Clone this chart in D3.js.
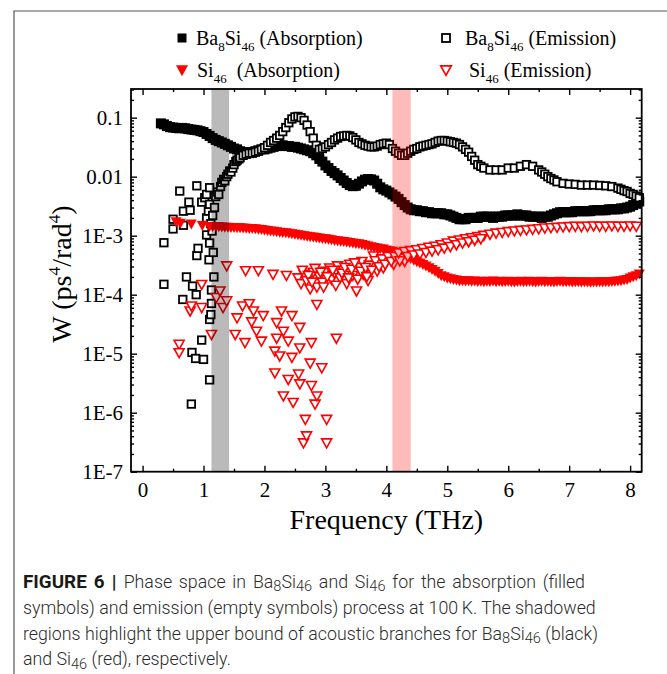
<!DOCTYPE html>
<html><head><meta charset="utf-8">
<script src="https://cdn.jsdelivr.net/npm/d3@7"></script>
<style>body{margin:0;background:#fff}svg{display:block}</style>
</head><body><svg id="c" width="667" height="674"></svg>
<script>
// ---------------- DATA ----------------
const xTicks = [0,1,2,3,4,5,6,7,8];
const xMinorTicks = [0.5,1.5,2.5,3.5,4.5,5.5,6.5,7.5];
const yTicks = [1e-7,1e-6,1e-5,1e-4,1e-3,1e-2,1e-1];
const yTickLabels = ["1E-7","1E-6","1E-5","1E-4","1E-3","0.01","0.1"];
const bandBa = [1.13, 1.42];   // acoustic upper bound Ba8Si46 (THz)
const bandSi = [4.10, 4.40];   // acoustic upper bound Si46 (THz)

// Ba8Si46 absorption (filled squares)  [THz, W]
const baAbsorption = [
[0.30,.080],[0.35,.077],[0.40,.072],[0.45,.069],[0.50,.068],[0.55,.067],[0.60,.066],[0.65,.067],[0.70,.066],[0.75,.064],
[0.80,.063],[0.85,.062],[0.90,.061],[0.95,.059],[1.00,.057],[1.05,.053],[1.10,.049],[1.15,.045],[1.20,.042],[1.25,.040],
[1.30,.038],[1.35,.036],[1.40,.034],[1.45,.032],[1.50,.030],[1.55,.029],[1.60,.027],[1.65,.026],[1.70,.026],[1.75,.025],
[1.80,.026],[1.85,.027],[1.90,.028],[1.95,.029],[2.00,.029],[2.05,.030],[2.10,.031],[2.15,.032],[2.20,.033],[2.25,.034],
[2.30,.034],[2.35,.033],[2.40,.033],[2.45,.032],[2.50,.032],[2.55,.031],[2.60,.030],[2.65,.029],[2.70,.028],[2.75,.027],
[2.80,.025],[2.85,.023],[2.90,.020],[2.95,.018],[3.00,.0155],[3.05,.014],[3.10,.0125],[3.15,.0115],[3.20,.0105],[3.25,.0095],
[3.30,.0086],[3.35,.0078],[3.40,.0072],[3.45,.0069],[3.50,.0070],[3.55,.0076],[3.60,.0083],[3.65,.0089],[3.70,.0091],[3.75,.0090],
[3.80,.0086],[3.85,.0076],[3.90,.0066],[3.95,.0061],[4.00,.0058],[4.05,.0054],[4.10,.0050],[4.15,.0046],[4.20,.0042],[4.25,.0037],
[4.30,.0033],[4.35,.0030],[4.40,.0028],[4.45,.0027],[4.50,.0027],[4.55,.0026],[4.60,.0026],[4.65,.0025],[4.70,.0025],[4.75,.0024],
[4.80,.0024],[4.85,.0024],[4.90,.0024],[4.95,.0023],[5.00,.0023],[5.05,.0022],[5.10,.0021],[5.15,.0020],[5.20,.0019],[5.25,.0019],
[5.30,.0019],[5.35,.0020],[5.40,.0020],[5.45,.0020],[5.50,.0020],[5.55,.0021],[5.60,.0021],[5.65,.0021],[5.70,.0021],[5.75,.0020],
[5.80,.0021],[5.85,.0021],[5.90,.0021],[5.95,.0022],[6.00,.0022],[6.05,.0022],[6.10,.0022],[6.15,.0023],[6.20,.0022],[6.25,.0022],
[6.30,.0022],[6.35,.0021],[6.40,.0021],[6.45,.0021],[6.50,.0021],[6.55,.0020],[6.60,.0021],[6.65,.0021],[6.70,.0022],[6.75,.0023],
[6.80,.0024],[6.85,.0025],[6.90,.0025],[6.95,.0025],[7.00,.0025],[7.05,.0025],[7.10,.0026],[7.15,.0026],[7.20,.0026],[7.25,.0026],
[7.30,.0026],[7.35,.0026],[7.40,.0027],[7.45,.0027],[7.50,.0027],[7.55,.0027],[7.60,.0027],[7.65,.0028],[7.70,.0028],[7.75,.0028],
[7.80,.0028],[7.85,.0029],[7.90,.0029],[7.95,.0030],[8.00,.0031],[8.05,.0033],[8.10,.0035],[8.15,.0038]
];

// Ba8Si46 emission (open squares)  [THz, W]
const baEmission = [
[0.35,7.6e-4],[0.35,1.5e-4],[0.50,1.9e-3],[0.50,1.3e-3],[0.61,5.7e-3],[0.66,8.3e-5],[0.67,2.6e-3],[0.67,1.5e-3],
[0.72,2.0e-4],[0.76,3.7e-3],[0.78,2.7e-3],[0.80,1.4e-6],[0.81,1.05e-5],[0.82,1.4e-4],[0.87,8.3e-6],[0.88,1.0e-4],
[0.89,7.0e-3],[0.89,4.6e-4],[0.91,6.1e-4],[0.97,3.7e-3],[0.97,1.7e-5],[1.00,8.0e-6],[1.05,1.03e-3],[1.09,3.9e-4],
[1.10,7.5e-4],[1.10,3.8e-5],[1.10,3.6e-6],[1.12,4.6e-5],[1.13,1.2e-4],[1.13,7.1e-5],[1.16,5.2e-4],[1.17,2.0e-4],
[1.02,4.4e-3],[1.05,2.0e-3],[1.05,5.0e-3],[1.08,2.6e-3],[1.10,3.4e-3],[1.10,6.5e-3],[1.12,1.6e-3],[1.14,1.2e-3],
[1.15,2.2e-3],[1.18,3.0e-3],
[1.20,.0046],[1.23,.0055],[1.25,.0050],[1.28,.0068],[1.30,.0080],[1.33,.0090],[1.35,.0085],[1.38,.010],[1.40,.011],
[1.43,.0125],[1.45,.012],[1.48,.014],[1.50,.016],[1.53,.018],[1.55,.019],[1.58,.020],[1.60,.021],[1.65,.023],[1.70,.024],
[1.75,.025],[1.80,.025],[1.85,.026],[1.90,.027],[1.95,.029],[2.00,.031],[2.05,.034],[2.10,.038],[2.15,.041],[2.20,.045],
[2.25,.050],[2.30,.058],[2.35,.068],[2.40,.082],[2.45,.095],[2.50,.103],[2.55,.105],[2.60,.100],[2.65,.090],[2.70,.075],
[2.75,.058],[2.80,.045],[2.85,.034],[2.90,.029],[2.95,.030],[3.00,.032],[3.05,.035],[3.10,.038],[3.15,.042],[3.20,.045],
[3.25,.048],[3.30,.049],[3.35,.050],[3.40,.049],[3.45,.046],[3.50,.042],[3.55,.038],[3.60,.036],[3.65,.034],[3.70,.033],
[3.75,.032],[3.80,.032],[3.85,.033],[3.90,.035],[3.95,.036],[4.00,.037],[4.05,.035],[4.10,.030],[4.15,.027],[4.20,.025],
[4.25,.023],[4.30,.023],[4.35,.025],[4.40,.027],[4.45,.029],[4.50,.030],[4.55,.032],[4.60,.033],[4.65,.034],[4.70,.035],
[4.75,.036],[4.80,.038],[4.85,.040],[4.90,.041],[4.95,.041],[5.00,.040],[5.05,.039],[5.10,.038],[5.15,.037],[5.20,.035],
[5.25,.032],[5.30,.029],[5.35,.026],[5.40,.022],[5.45,.019],[5.50,.016],[5.55,.015],[5.60,.014],[5.70,.013],[5.80,.013],
[5.90,.013],[6.00,.014],[6.10,.014],[6.20,.015],[6.30,.016],[6.40,.015],[6.50,.013],[6.55,.012],[6.60,.011],[6.65,.010],
[6.70,.0093],[6.75,.0088],[6.80,.0082],[6.90,.0077],[7.00,.0075],[7.10,.0074],[7.20,.0072],[7.30,.0072],[7.40,.0072],[7.50,.0071],
[7.60,.0070],[7.70,.0068],[7.80,.0064],[7.85,.0061],[7.90,.0058],[7.95,.0056],[8.00,.0052],[8.05,.0050],[8.10,.0047],[8.15,.0044]
];

// Si46 absorption (filled down-triangles)  [THz, W]
const siAbsorption = [
[0.55,1.8e-3],[0.62,1.7e-3],[0.80,1.65e-3],[0.98,1.55e-3],[1.10,1.5e-3],[1.15,1.5e-3],
[1.20,1.50e-3],[1.25,1.48e-3],[1.30,1.47e-3],[1.35,1.46e-3],[1.40,1.45e-3],[1.45,1.44e-3],[1.50,1.44e-3],[1.55,1.43e-3],
[1.60,1.42e-3],[1.65,1.41e-3],[1.70,1.40e-3],[1.75,1.39e-3],[1.80,1.39e-3],[1.85,1.37e-3],[1.90,1.35e-3],[1.95,1.33e-3],
[2.00,1.30e-3],[2.05,1.28e-3],[2.10,1.26e-3],[2.15,1.24e-3],[2.20,1.22e-3],[2.25,1.20e-3],[2.30,1.19e-3],[2.35,1.17e-3],
[2.40,1.15e-3],[2.45,1.13e-3],[2.50,1.11e-3],[2.55,1.09e-3],[2.60,1.06e-3],[2.65,1.04e-3],[2.70,1.02e-3],[2.75,1.00e-3],
[2.80,9.9e-4],[2.85,9.7e-4],[2.90,9.6e-4],[2.95,9.4e-4],[3.00,9.3e-4],[3.05,9.1e-4],[3.10,8.9e-4],[3.15,8.7e-4],
[3.20,8.6e-4],[3.25,8.4e-4],[3.30,8.3e-4],[3.35,8.2e-4],[3.40,8.0e-4],[3.45,7.9e-4],[3.50,7.7e-4],[3.55,7.6e-4],
[3.60,7.4e-4],[3.65,7.2e-4],[3.70,7.0e-4],[3.75,6.8e-4],[3.80,6.6e-4],[3.85,6.5e-4],[3.90,6.3e-4],[3.95,6.2e-4],
[4.00,6.0e-4],[4.05,5.8e-4],[4.10,5.7e-4],[4.15,5.5e-4],[4.20,5.3e-4],[4.25,5.0e-4],[4.30,4.8e-4],[4.35,4.5e-4],
[4.40,4.3e-4],[4.45,4.0e-4],[4.50,3.8e-4],[4.55,3.6e-4],[4.60,3.4e-4],[4.65,3.2e-4],[4.70,3.0e-4],[4.75,2.8e-4],
[4.80,2.6e-4],[4.85,2.4e-4],[4.90,2.2e-4],[4.95,2.1e-4],[5.00,2.0e-4],[5.05,1.95e-4],[5.10,1.9e-4],[5.15,1.85e-4],
[5.20,1.8e-4],[5.25,1.8e-4],[5.30,1.78e-4],[5.35,1.8e-4],[5.40,1.76e-4],[5.45,1.78e-4],[5.50,1.75e-4],[5.55,1.77e-4],
[5.60,1.74e-4],[5.65,1.76e-4],[5.70,1.75e-4],[5.75,1.78e-4],[5.80,1.74e-4],[5.85,1.76e-4],[5.90,1.73e-4],[5.95,1.75e-4],
[6.00,1.77e-4],[6.05,1.74e-4],[6.10,1.72e-4],[6.15,1.75e-4],[6.20,1.76e-4],[6.25,1.73e-4],[6.30,1.75e-4],[6.35,1.77e-4],
[6.40,1.74e-4],[6.45,1.72e-4],[6.50,1.75e-4],[6.55,1.76e-4],[6.60,1.73e-4],[6.65,1.75e-4],[6.70,1.74e-4],[6.75,1.72e-4],
[6.80,1.75e-4],[6.85,1.76e-4],[6.90,1.74e-4],[6.95,1.73e-4],[7.00,1.75e-4],[7.05,1.72e-4],[7.10,1.74e-4],[7.15,1.73e-4],
[7.20,1.71e-4],[7.25,1.73e-4],[7.30,1.72e-4],[7.35,1.70e-4],[7.40,1.72e-4],[7.45,1.71e-4],[7.50,1.73e-4],[7.55,1.72e-4],
[7.60,1.74e-4],[7.65,1.73e-4],[7.70,1.75e-4],[7.75,1.76e-4],[7.80,1.78e-4],[7.85,1.80e-4],[7.90,1.85e-4],[7.95,1.90e-4],
[8.00,2.0e-4],[8.05,2.1e-4],[8.10,2.2e-4],[8.15,2.35e-4]
];

// Si46 emission (open down-triangles)  [THz, W]
const siEmission = [
[0.60,1.5e-5],[0.60,1.08e-5],[0.78,5.5e-5],[0.80,6.7e-5],[0.97,1.55e-4],[0.97,6.3e-5],[1.13,2.2e-5],[1.21,9.3e-5],
[1.27,1.2e-4],[1.32,6.3e-5],[1.38,3.2e-4],[1.38,8.2e-5],[1.52,2.2e-5],[1.55,4.2e-5],[1.64,6.7e-5],[1.68,1.6e-5],
[1.69,2.65e-4],[1.75,7.3e-5],[1.79,3.6e-5],[1.82,5.5e-5],[1.87,2.5e-5],[1.90,2.65e-4],[1.95,1.7e-5],[1.98,4.6e-5],
[2.14,2.3e-4],[2.17,1.15e-5],[2.17,4.9e-6],[2.20,3.5e-5],[2.20,1.9e-5],[2.25,9.5e-6],[2.28,5.5e-5],[2.31,2.5e-5],
[2.31,2.0e-6],[2.36,2.2e-4],[2.39,1.7e-5],[2.39,3.8e-6],[2.45,4.6e-5],[2.45,9.0e-6],[2.47,1.55e-6],[2.56,4.7e-6],
[2.58,2.9e-5],[2.58,1.3e-5],[2.58,3.2e-6],[2.64,3.2e-7],[2.67,8.0e-7],[2.69,4.2e-7],[2.75,7.2e-6],[2.77,1.6e-5],
[2.77,3.0e-6],[2.83,1.45e-6],[2.86,2.0e-6],[2.86,7.1e-5],[2.94,6.0e-6],[3.02,8.0e-7],[3.02,3.2e-7],[3.18,1.9e-5],
[2.55,2.0e-4],[2.60,1.6e-4],[2.65,2.3e-4],[2.69,1.8e-4],[2.75,1.3e-4],[2.80,2.5e-4],[2.86,1.4e-4],[2.90,2.1e-4],
[2.95,1.7e-4],[3.00,2.6e-4],[3.07,2.95e-4],[3.10,1.9e-4],[3.15,2.4e-4],[3.20,3.2e-4],[3.24,2.0e-4],[3.30,2.7e-4],
[3.35,1.6e-4],[3.40,3.4e-4],[3.45,2.2e-4],[3.51,1.2e-4],[3.55,3.0e-4],[3.60,3.8e-4],[3.62,2.3e-4],[3.70,1.8e-4],
[3.72,3.3e-4],[3.79,4.7e-4],[3.85,2.6e-4],[3.90,3.6e-4],[3.95,2.95e-4],[4.00,3.9e-4],[4.06,4.4e-4],[4.12,3.4e-4],
[4.17,5.0e-4],[4.25,4.3e-4],[4.30,3.8e-4],
[2.62,2.7e-4],[2.72,2.2e-4],[2.78,1.7e-4],[2.83,2.9e-4],[2.92,2.5e-4],[2.97,1.4e-4],[3.03,2.1e-4],[3.12,2.7e-4],
[3.17,1.5e-4],[3.27,2.4e-4],[3.32,3.0e-4],[3.38,2.0e-4],[3.43,2.8e-4],[3.48,3.6e-4],[3.53,1.9e-4],[3.58,2.6e-4],
[3.66,3.0e-4],[3.68,2.1e-4],[3.76,2.7e-4],[3.82,3.9e-4],[3.88,3.1e-4],[3.93,4.2e-4],[3.98,3.4e-4],[4.03,4.6e-4],
[4.08,3.8e-4],[4.14,4.6e-4],[4.22,3.9e-4],
[4.20,5.3e-4],[4.30,5.6e-4],[4.40,5.8e-4],[4.50,6.0e-4],[4.60,6.3e-4],[4.70,6.6e-4],[4.80,6.9e-4],[4.90,7.3e-4],
[5.00,7.8e-4],[5.10,8.4e-4],[5.20,8.8e-4],[5.30,9.2e-4],[5.40,9.6e-4],[5.50,1.0e-3],[5.60,1.05e-3],[5.70,1.1e-3],
[5.80,1.15e-3],[5.90,1.18e-3],[6.00,1.22e-3],[6.10,1.25e-3],[6.20,1.28e-3],[6.30,1.3e-3],[6.40,1.33e-3],[6.50,1.36e-3],
[6.60,1.4e-3],[6.70,1.42e-3],[6.80,1.44e-3],[6.90,1.46e-3],[7.00,1.48e-3],[7.10,1.5e-3],[7.20,1.48e-3],[7.30,1.5e-3],
[7.40,1.52e-3],[7.50,1.5e-3],[7.60,1.5e-3],[7.70,1.52e-3],[7.80,1.5e-3],[7.90,1.5e-3],[8.00,1.52e-3],[8.10,1.5e-3],
[4.35,4.6e-4],[4.45,4.9e-4],[4.55,5.1e-4],[4.65,5.4e-4],[4.75,5.7e-4],[4.85,6.0e-4],[4.95,6.4e-4],[5.05,6.8e-4],
[5.15,7.3e-4],[5.25,7.8e-4],[5.35,8.2e-4],[5.45,8.7e-4],[5.55,9.2e-4]
];

// ---------------- CHART ----------------
const svg = d3.select('#c');
const serif = "'Liberation Serif','Times New Roman',serif";
const L = 131, R = 641.7, T = 89, B = 471.7;
const x = d3.scaleLinear().domain([-0.19, 8.19]).range([L, R]);
const y = d3.scaleLog().domain([1e-7, 0.306]).range([B, T]);

// figure border (left & top)
svg.append('path').attr('d', `M14,674 L14,11 L667,11`).attr('fill','none').attr('stroke','#555').attr('stroke-width',1.2);

const plot = svg.append('g');
function sq(g, data, s, filled) {
  g.selectAll(null).data(data).enter().append('rect')
    .attr('x', d => x(d[0]) - s/2).attr('y', d => y(d[1]) - s/2)
    .attr('width', s).attr('height', s)
    .attr('fill', filled ? '#000' : '#fff')
    .attr('stroke', '#000').attr('stroke-width', filled ? 0 : 1.8);
}
function triPath(cx, cy, w, h) {
  return `M${cx - w/2},${cy - h/3}L${cx + w/2},${cy - h/3}L${cx},${cy + 2*h/3}Z`;
}
function tri(g, data, w, h, filled) {
  g.selectAll(null).data(data).enter().append('path')
    .attr('d', d => triPath(x(d[0]), y(d[1]), w, h))
    .attr('fill', filled ? '#f00' : '#fff')
    .attr('stroke', '#f00').attr('stroke-width', filled ? 0 : 1.6).attr('stroke-linejoin','miter');
}
sq(plot, baAbsorption, 10, true);
sq(plot, baEmission, 7.5, false);
tri(plot, siAbsorption, 11, 10, true);
tri(plot, siEmission, 10, 9, false);

// shaded bands
svg.append('rect').attr('x', x(bandBa[0])).attr('width', x(bandBa[1]) - x(bandBa[0]))
  .attr('y', T).attr('height', B - T).attr('fill', '#000').attr('fill-opacity', 0.27);
svg.append('rect').attr('x', x(bandSi[0])).attr('width', x(bandSi[1]) - x(bandSi[0]))
  .attr('y', T).attr('height', B - T).attr('fill', '#f00').attr('fill-opacity', 0.27);

// axes
const yMinor = [];
yTicks.forEach(t => { if (t < 0.3) for (let k = 2; k <= 9; k++) if (t*k < 0.306) yMinor.push(t*k); });
function styleAxis(g) { g.select('.domain').remove(); g.selectAll('line').attr('stroke','#000').attr('stroke-width',1.4); }
const fmtY = d => yTickLabels[yTicks.indexOf(d)];
const tickFont = 21;
svg.append('g').attr('transform', `translate(${L},0)`)
  .call(d3.axisLeft(y).tickValues(yTicks).tickFormat(fmtY).tickSizeInner(-6).tickSizeOuter(0).tickPadding(8))
  .call(styleAxis).call(g => g.selectAll('text').attr('font-family', serif).attr('font-size', tickFont).attr('fill','#000'));
svg.append('g').attr('transform', `translate(${L},0)`)
  .call(d3.axisLeft(y).tickValues(yMinor).tickFormat('').tickSizeInner(-3).tickSizeOuter(0)).call(styleAxis);
svg.append('g').attr('transform', `translate(${R},0)`)
  .call(d3.axisRight(y).tickValues(yTicks).tickFormat('').tickSizeInner(-6).tickSizeOuter(0)).call(styleAxis);
svg.append('g').attr('transform', `translate(${R},0)`)
  .call(d3.axisRight(y).tickValues(yMinor).tickFormat('').tickSizeInner(-3).tickSizeOuter(0)).call(styleAxis);
svg.append('g').attr('transform', `translate(0,${B})`)
  .call(d3.axisBottom(x).tickValues(xTicks).tickFormat(d3.format('d')).tickSizeInner(-6).tickSizeOuter(0).tickPadding(10))
  .call(styleAxis).call(g => g.selectAll('text').attr('font-family', serif).attr('font-size', tickFont).attr('fill','#000'));
svg.append('g').attr('transform', `translate(0,${B})`)
  .call(d3.axisBottom(x).tickValues(xMinorTicks).tickFormat('').tickSizeInner(-3).tickSizeOuter(0)).call(styleAxis);
svg.append('g').attr('transform', `translate(0,${T})`)
  .call(d3.axisTop(x).tickValues(xTicks).tickFormat('').tickSizeInner(-6).tickSizeOuter(0)).call(styleAxis);
svg.append('g').attr('transform', `translate(0,${T})`)
  .call(d3.axisTop(x).tickValues(xMinorTicks).tickFormat('').tickSizeInner(-3).tickSizeOuter(0)).call(styleAxis);
svg.append('rect').attr('x', L).attr('y', T).attr('width', R - L).attr('height', B - T)
  .attr('fill','none').attr('stroke','#000').attr('stroke-width',1.8);

// rich text helper
function rich(parent, parts, size, ratio) {
  let off = 0;
  parts.forEach(p => {
    const shift = p.sub ? size*0.3 : p.sup ? -size*0.38 : 0;
    parent.append('tspan').attr('dy', shift - off)
      .attr('font-size', (p.sub || p.sup) ? size*(ratio||0.65) : size).text(p.t);
    off = shift;
  });
  if (off) parent.append('tspan').attr('dy', -off).text('');
}

// axis titles
svg.append('text').attr('x', (x(0)+x(8))/2).attr('y', 529).attr('text-anchor','middle')
  .attr('font-family', serif).attr('font-size', 28).attr('fill','#000').text('Frequency (THz)');
const yt = svg.append('text').attr('transform','translate(71,274) rotate(-90)').attr('text-anchor','middle')
  .attr('font-family', serif).attr('fill','#000');
rich(yt, [{t:'W (ps'},{t:'4',sup:true},{t:'/rad'},{t:'4',sup:true},{t:')'}], 28, 0.62);

// legend
const legFont = 20;
const leg = svg.append('g').attr('font-family', serif).attr('font-size', legFont).attr('fill','#000');
leg.append('rect').attr('x', 177.5).attr('y', 33.5).attr('width', 9).attr('height', 9).attr('fill','#000');
leg.append('rect').attr('x', 442).attr('y', 34).attr('width', 8).attr('height', 8).attr('fill','#fff').attr('stroke','#000').attr('stroke-width',1.8);
leg.append('path').attr('d', triPath(182, 69, 12, 11)).attr('fill','#f00');
leg.append('path').attr('d', triPath(446, 69, 10.5, 9.5)).attr('fill','#fff').attr('stroke','#f00').attr('stroke-width',1.7);
const l1 = leg.append('text').attr('x', 196).attr('y', 45);
rich(l1, [{t:'Ba'},{t:'8',sub:true},{t:'Si'},{t:'46',sub:true},{t:' (Absorption)'}], legFont);
const l2 = leg.append('text').attr('x', 465).attr('y', 45);
rich(l2, [{t:'Ba'},{t:'8',sub:true},{t:'Si'},{t:'46',sub:true},{t:' (Emission)'}], legFont);
const l3 = leg.append('text').attr('x', 197).attr('y', 77);
rich(l3, [{t:'Si'},{t:'46',sub:true},{t:'\u2002(Absorption)'}], legFont);
const l4 = leg.append('text').attr('x', 469).attr('y', 77);
rich(l4, [{t:'Si'},{t:'46',sub:true},{t:' (Emission)'}], legFont);

// caption
const sans = "Roboto,'Liberation Sans',Arial,sans-serif";
const cap = svg.append('g').attr('font-family', sans).attr('fill','#2b2b2b');
const capLines = [
  [{t:'FIGURE 6 | ',b:true},{t:'Phase space in Ba'},{t:'8',sub:true},{t:'Si'},{t:'46',sub:true},{t:' and Si'},{t:'46',sub:true},{t:' for the absorption (filled'}],
  [{t:'symbols) and emission (empty symbols) process at 100\u2009K. The shadowed'}],
  [{t:'regions highlight the upper bound of acoustic branches for Ba'},{t:'8',sub:true},{t:'Si'},{t:'46',sub:true},{t:' (black)'}],
  [{t:'and Si'},{t:'46',sub:true},{t:' (red), respectively.'}]
];
const capY = [587.5, 613.5, 639.5, 665];
const capRight = [585, 593, 598, null];   // right ends of the lines in the figure
const capLeft = 23;
const capTexts = capLines.map((parts, i) => {
  const t = cap.append('text').attr('x', capLeft).attr('y', capY[i]);
  let off = 0;
  parts.forEach(p => {
    const shift = p.sub ? 3.5 : 0;
    t.append('tspan').attr('dy', shift - off).attr('font-weight', p.b ? 'bold' : 300)
      .attr('fill', p.b ? '#1a1a1a' : null)
      .attr('data-k', p.sub ? 's' : p.b ? 'b' : 'n').text(p.t);
    off = shift;
  });
  return t;
});
function setCap(s) {
  capTexts.forEach(t => t.selectAll('tspan').attr('font-size', function(){
    const k = this.getAttribute('data-k'); return k === 's' ? s*0.82 : k === 'b' ? s*1.06 : s; }));
}
setCap(17);
const w3 = capTexts[2].node().getComputedTextLength();
setCap(17 * (capRight[2] - capLeft - 1) / w3);
capTexts.forEach((t, i) => {
  if (capRight[i] == null) return;
  const w = t.node().getComputedTextLength();
  const n = capLines[i].map(p => p.t).join('').split(' ').length - 1;
  const target = capRight[i] - capLeft;
  if (n > 0 && w < target) t.attr('word-spacing', (target - w) / n);
});
</script></body></html>
